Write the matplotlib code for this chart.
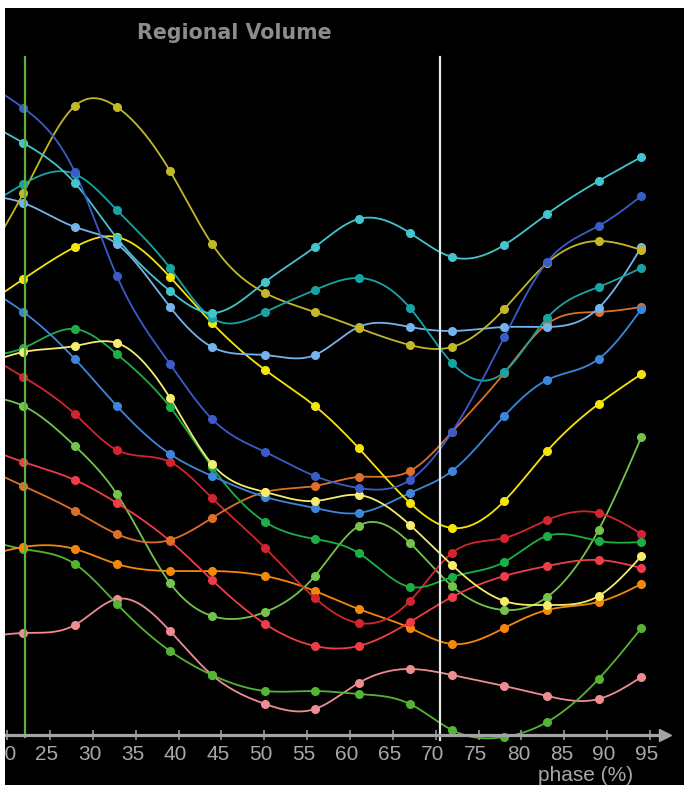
import numpy as np
import matplotlib
matplotlib.use("Agg")
import matplotlib.pyplot as plt
from matplotlib.patches import Rectangle
from matplotlib.transforms import ScaledTranslation

# Cardiac phase (% of R-R interval); the first sample lies just left of the view
phases = [16.4, 21.9, 27.9, 32.8, 39.0, 43.9, 50.1, 55.9, 61.0, 67.0, 71.9, 78.0, 83.0, 89.0, 94.0]

# Regional volume per segment (arbitrary units)
seg_dark_blue = [65.7, 62.7, 56.3, 45.9, 37.1, 31.6, 28.3, 25.9, 24.7, 25.5, 30.3, 39.8, 47.3, 50.9, 53.9]
seg_cyan = [61.8, 59.2, 55.2, 49.7, 44.4, 42.2, 45.3, 48.8, 51.6, 50.2, 47.8, 49.0, 52.1, 55.4, 57.8]
seg_teal = [52.1, 55.1, 56.1, 52.5, 46.7, 41.7, 42.3, 44.5, 45.7, 42.7, 37.2, 36.3, 41.7, 44.8, 46.7]
seg_olive = [46.2, 54.2, 62.9, 62.8, 56.4, 49.1, 44.2, 42.3, 40.7, 39.0, 38.8, 42.6, 47.2, 49.4, 48.5]
seg_light_blue = [54.0, 53.2, 50.8, 49.1, 42.8, 38.8, 38.0, 38.0, 40.8, 40.8, 40.4, 40.8, 40.8, 42.7, 48.8]
seg_yellow = [42.4, 45.6, 48.8, 49.8, 45.8, 41.2, 36.5, 32.9, 28.7, 23.2, 20.7, 23.4, 28.4, 33.1, 36.1]
seg_pale_yellow = [36.7, 38.3, 38.9, 39.2, 33.7, 27.1, 24.3, 23.4, 24.0, 21.0, 17.0, 13.4, 13.0, 13.9, 17.9]
seg_green = [37.9, 38.7, 40.6, 38.1, 32.8, 26.8, 21.3, 19.6, 18.2, 14.8, 15.8, 17.3, 19.9, 19.4, 19.3]
seg_mid_blue = [45.3, 42.3, 37.6, 32.9, 28.1, 25.9, 23.8, 22.7, 22.2, 24.2, 26.4, 31.9, 35.5, 37.6, 42.6]
seg_brown = [27.1, 24.9, 22.4, 20.1, 19.5, 21.7, 24.3, 24.9, 25.8, 26.4, 30.3, 36.2, 41.1, 42.3, 42.8]
seg_red = [38.6, 35.8, 32.1, 28.5, 27.3, 23.7, 18.7, 13.7, 11.2, 13.4, 18.2, 19.7, 21.5, 22.2, 20.1]
seg_light_red = [29.1, 27.3, 25.5, 23.2, 19.4, 15.5, 11.1, 8.9, 8.9, 11.3, 13.8, 15.9, 16.9, 17.5, 16.7]
seg_orange = [17.6, 18.8, 18.6, 17.1, 16.4, 16.4, 15.9, 14.4, 12.6, 10.7, 9.1, 10.7, 12.5, 13.3, 15.1]
seg_light_green = [33.9, 32.9, 28.9, 24.1, 15.2, 11.9, 12.3, 15.9, 20.9, 19.2, 14.9, 12.5, 13.8, 20.5, 29.8]
seg_pink = [9.6, 10.2, 11.0, 13.6, 10.4, 6.0, 3.1, 2.6, 5.2, 6.6, 6.0, 4.9, 3.9, 3.6, 5.8]
seg_grass = [19.8, 18.6, 17.1, 13.1, 8.4, 6.0, 4.4, 4.4, 4.1, 3.1, 0.5, -0.2, 1.3, 5.6, 10.7]

tick_phases = list(range(20, 100, 5))
end_systole_phase = 70.5
start_phase = 22.1

series = [
    (seg_pink, "#EE8C94"),
    (seg_grass, "#54B434"),
    (seg_orange, "#F4880C"),
    (seg_light_green, "#74C44C"),
    (seg_light_red, "#EE3C48"),
    (seg_red, "#D42430"),
    (seg_brown, "#DC7028"),
    (seg_green, "#1EAE46"),
    (seg_mid_blue, "#3C86DC"),
    (seg_pale_yellow, "#F4EC6C"),
    (seg_yellow, "#F4E40C"),
    (seg_light_blue, "#74B4EC"),
    (seg_olive, "#C4B828"),
    (seg_teal, "#18A4A4"),
    (seg_cyan, "#44C4CC"),
    (seg_dark_blue, "#3A5CC8"),
]


def natural_spline(x, y, xs):
    x = np.asarray(x, float)
    y = np.asarray(y, float)
    n = len(x)
    h = np.diff(x)
    A = np.zeros((n, n))
    b = np.zeros(n)
    A[0, 0] = A[-1, -1] = 1.0
    for i in range(1, n - 1):
        A[i, i - 1] = h[i - 1]
        A[i, i] = 2 * (h[i - 1] + h[i])
        A[i, i + 1] = h[i]
        b[i] = 3 * ((y[i + 1] - y[i]) / h[i] - (y[i] - y[i - 1]) / h[i - 1])
    c = np.linalg.solve(A, b)
    bc = (y[1:] - y[:-1]) / h - h * (2 * c[:-1] + c[1:]) / 3
    d = (c[1:] - c[:-1]) / (3 * h)
    idx = np.clip(np.searchsorted(x, xs) - 1, 0, n - 2)
    dx = xs - x[idx]
    return y[idx] + bc[idx] * dx + c[idx] * dx ** 2 + d[idx] * dx ** 3


W, H = 684, 785
fig = plt.figure(figsize=(W / 100, H / 100), dpi=100, facecolor="white")
ax = fig.add_axes([5 / W, 0, 679 / W, 777 / H])
ax.set_facecolor("black")

x_left, x_right = 19.75, 98.97
ax.set_xlim(x_left, x_right)
ax.set_ylim(-5.0, 72.7)

xs = np.linspace(phases[0], phases[-1], 600)
for vals, col in series:
    ax.plot(xs, natural_spline(phases, vals, xs), color=col, lw=1.3, zorder=3,
            solid_capstyle="round")
    ax.plot(phases[1:], vals[1:], "o", color=col, ms=5.5, mec=col, zorder=4)

# phase markers
ax.plot([start_phase, start_phase], [-0.2, 67.8], color="#5CB03C", lw=1.6, zorder=6)
ax.plot([end_systole_phase, end_systole_phase], [-0.5, 67.8], color="#E6E6E6", lw=1.6, zorder=6)

# axis with ticks and arrow
for s in ["left", "right", "top"]:
    ax.spines[s].set_visible(False)
ax.spines["bottom"].set_position(("data", 0))
ax.spines["bottom"].set_bounds(x_left, 96.2)
ax.spines["bottom"].set_color("#A4A4A4")
ax.spines["bottom"].set_linewidth(2.3)
ax.spines["bottom"].set_zorder(7)
ax.plot([96.8], [0], marker=">", ms=8, color="#A4A4A4", clip_on=False, zorder=7)
ax.plot([96.2, 96.2], [-0.45, 0.45], color="#A4A4A4", lw=1.2, zorder=7)
ax.set_yticks([])
ax.set_xticks(tick_phases)
ax.set_xticklabels([str(t) for t in tick_phases])
ax.tick_params(axis="x", direction="inout", length=7, width=1.1, color="#A4A4A4",
               labelcolor="#A8A8A8", labelsize=15, pad=4)
for lbl in ax.get_xticklabels():
    lbl.set_fontfamily("Liberation Sans")
    lbl.set_transform(lbl.get_transform() + ScaledTranslation(-3 / 100, 0, fig.dpi_scale_trans))

ax.text(87.5, -4.6, "phase (%)", color="#A8A8A8", fontsize=15, family="Liberation Sans",
        ha="center", va="baseline", clip_on=False)

fig.text(234.5 / W, 1 - 39 / H, "Regional Volume", color="#8C8C8C", fontsize=14.8,
         fontweight="bold", family="DejaVu Sans", ha="center", va="baseline")

# white frame strips along top and left edge
fig.patches.append(Rectangle((0, 0), 5 / W, 1, transform=fig.transFigure,
                             facecolor="white", edgecolor="none", zorder=20))
fig.patches.append(Rectangle((0, 1 - 8 / H), 1, 8 / H, transform=fig.transFigure,
                             facecolor="white", edgecolor="none", zorder=20))

fig.savefig("out.png", dpi=100, facecolor="white")
